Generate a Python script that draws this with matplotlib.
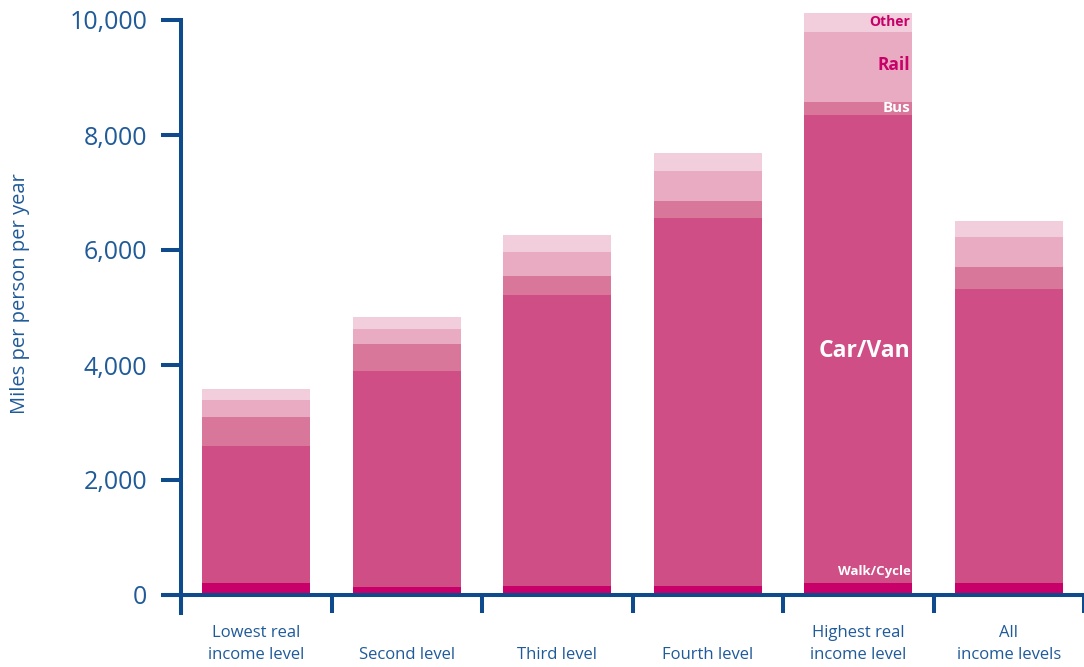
import matplotlib
matplotlib.use("Agg")
import matplotlib.pyplot as plt
import numpy as np

plt.rcParams['font.family'] = ['Open Sans', 'DejaVu Sans']

categories = ["Lowest real\nincome level", "Second level", "Third level",
              "Fourth level", "Highest real\nincome level", "All\nincome levels"]
walk_cycle = [210, 140, 150, 150, 210, 210]
car_van    = [2390, 3750, 5060, 6410, 8140, 5120]
bus        = [490, 480, 340, 300, 230, 370]
rail       = [310, 260, 410, 520, 1220, 530]
other      = [190, 200, 300, 300, 330, 280]

series = [("Walk/Cycle", walk_cycle, "#C8006A"),
          ("Car/Van", car_van, "#CF4E86"),
          ("Bus", bus, "#D87799"),
          ("Rail", rail, "#E8ABC1"),
          ("Other", other, "#F2CDDB")]

BLUE = "#0F4A8C"
TEXT = "#1F5A99"

W, H = 1084, 667
fig = plt.figure(figsize=(W/100, H/100), dpi=100)
ax = fig.add_axes([181/W, (H-613)/H, (W-181)/W, (613-20)/H])

x = np.arange(len(categories))
ypx = 10000/575.0
bottom = np.zeros(len(categories))
for name, vals, col in series:
    ax.bar(x, vals, width=0.72, bottom=bottom, color=col, edgecolor='none',
           clip_on=False, zorder=2)
    bottom += np.array(vals)

ax.set_xlim(-0.5, 5.5)
ax.set_ylim(-18*ypx, 10000)

for s in ['top', 'right', 'bottom']:
    ax.spines[s].set_visible(False)
ax.spines['left'].set_color(BLUE)
ax.spines['left'].set_linewidth(2.9)
ax.spines['left'].set_bounds(-18*ypx, 10000)

ax.set_yticks([0, 2000, 4000, 6000, 8000, 10000])
ax.set_yticklabels(["0", "2,000", "4,000", "6,000", "8,000", "10,000"])
ax.tick_params(axis='y', length=14.4, width=2.9, color=BLUE, labelcolor=TEXT,
               labelsize=18, pad=10)
ax.set_xticks([])

# baseline and separator ticks
xpx = 6/903.0
ax.plot([-0.5 - 20*xpx, 5.5], [0, 0], color=BLUE, lw=2.9, clip_on=False,
        solid_capstyle='butt', zorder=3)
for sep in np.arange(-0.5, 5.6, 1.0):
    ax.plot([sep, sep], [0, -18*ypx], color=BLUE, lw=2.9, clip_on=False,
            solid_capstyle='butt', zorder=3)

# category labels
for i, c in enumerate(categories):
    lines = c.split("\n")
    if len(lines) == 1:
        ax.text(i, -(655-595)*ypx, lines[0], ha='center', va='center',
                fontsize=12, color=TEXT)
    else:
        ax.text(i, -(633-595)*ypx, lines[0], ha='center', va='center',
                fontsize=12, color=TEXT)
        ax.text(i, -(655-595)*ypx, lines[1], ha='center', va='center',
                fontsize=12, color=TEXT)

ax.text(-0.5 - 161*xpx, (595-294)*ypx, "Miles per person per year", rotation=90,
        ha='center', va='center', fontsize=14.5, color=TEXT,
        transform=ax.transData, clip_on=False)

# segment labels on highest bar
hb = 4
rx = hb + 0.36 - 2*xpx
ax.text(rx, (595-572)*ypx, "Walk/Cycle", ha='right', va='center', fontsize=9.5,
        color='white', fontweight='bold', zorder=5)
ax.text(rx, (595-351)*ypx, "Car/Van", ha='right', va='center', fontsize=16.5,
        color='white', fontweight='bold', zorder=5)
ax.text(rx, (595-108)*ypx, "Bus", ha='right', va='center', fontsize=11,
        color='white', fontweight='bold', zorder=5)
ax.text(rx, (595-65)*ypx, "Rail", ha='right', va='center', fontsize=12.5,
        color='#C8006A', fontweight='bold', zorder=5)
ax.text(rx, (595-22)*ypx, "Other", ha='right', va='center', fontsize=10,
        color='#C8006A', fontweight='bold', zorder=5)

fig.savefig("out.png", dpi=100, facecolor='white')
